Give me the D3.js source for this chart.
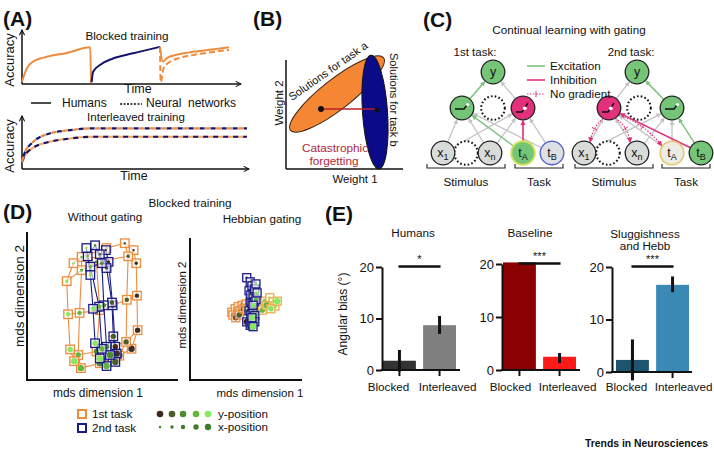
<!DOCTYPE html>
<html><head><meta charset="utf-8">
<script src="https://cdn.jsdelivr.net/npm/d3@7/dist/d3.min.js"></script>
<style>
html,body{margin:0;padding:0;background:#fff;}
svg{display:block;}
</style></head>
<body>
<svg id="fig" width="714" height="460"></svg>
<script>
// ================= DATA =================
// Panel A – blocked training (time in block units, accuracy 0..1)
const blockA1Time = [0, 0.07, 0.165, 0.36, 0.65, 0.99, 1.0];
const blockA1Acc  = [0.03, 0.34, 0.50, 0.61, 0.70, 0.83, 0.0];
const blockBTime  = [1.01, 1.03, 1.13, 1.32, 1.61, 2.0];
const blockBAcc   = [0.02, 0.26, 0.42, 0.57, 0.69, 0.84];
const blockA2HumanTime = [2.0, 2.04, 2.1, 2.25, 2.5, 2.75, 3.0];
const blockA2HumanAcc  = [0.84, 0.50, 0.58, 0.66, 0.73, 0.78, 0.83];
const blockA2NetTime = [2.0, 2.01, 2.05, 2.1, 2.3, 2.55, 2.8, 3.0];
const blockA2NetAcc  = [0.84, 0.02, 0.33, 0.44, 0.59, 0.67, 0.73, 0.77];
// Panel A – interleaved training
const interTime     = [0, 0.04, 0.14, 0.41, 0.7, 0.99, 3.26];
const interNetAcc   = [0.14, 0.35, 0.56, 0.79, 0.86, 0.90, 0.90];
const interHumanAcc = [0.14, 0.28, 0.44, 0.60, 0.67, 0.71, 0.71];

// Panel D – MDS coordinates, indexed [colour c: dark..bright][size s: small..large]
const orangeLeftX = [[0.46,0.50,0.51,0.52,0.43],[0.33,0.38,0.36,0.35,0.25],[0.06,-0.09,-0.04,-0.09,-0.04],[-0.31,-0.31,-0.34,-0.36,-0.32],[-0.43,-0.53,-0.51,-0.48,-0.42]];
const orangeLeftY = [[0.81,0.62,0.15,-0.35,-0.62],[0.91,0.72,0.09,-0.52,-0.72],[0.84,0.64,-0.06,-0.66,-0.83],[0.71,0.52,-0.10,-0.71,-0.90],[0.62,0.36,-0.12,-0.63,-0.80]];
const navyLeftX = [[0.05,0.09,0.15,0.19,0.21],[-0.04,0.06,0.14,0.16,0.19],[-0.11,-0.01,0.02,0.06,0.11],[-0.22,-0.18,-0.05,-0.01,0.06],[-0.24,-0.18,-0.14,-0.11,-0.04]];
const navyLeftY = [[0.81,0.64,0.01,-0.59,-0.69],[0.75,0.55,0.05,-0.44,-0.81],[0.88,0.62,0.01,-0.59,-0.71],[0.72,0.57,-0.01,-0.62,-0.87],[0.84,0.45,-0.04,-0.54,-0.76]];
const orangeRightX = [[-0.36,-0.30,-0.34,-0.29,-0.25],[-0.25,-0.22,-0.18,-0.23,-0.15],[-0.11,-0.08,-0.04,-0.10,-0.01],[0.13,0.18,0.22,0.17,0.25],[0.30,0.36,0.39,0.32,0.43]];
const orangeRightY = [[-0.09,-0.04,-0.13,-0.17,-0.07],[-0.01,-0.07,0.01,-0.13,-0.04],[0.03,-0.03,0.00,-0.07,-0.04],[0.04,-0.01,0.07,-0.06,0.01],[0.12,0.06,0.00,-0.04,0.07]];
const navyRightX = [[-0.10,-0.06,-0.04,-0.06,-0.10],[-0.04,-0.03,-0.01,-0.03,-0.04],[-0.01,0.01,0.03,0.01,-0.01],[0.03,0.04,0.06,0.04,0.04],[0.06,0.08,0.01,-0.01,0.01]];
const navyRightY = [[0.41,0.22,0.07,-0.07,-0.23],[0.35,0.16,0.04,-0.13,-0.28],[0.29,0.17,0.06,-0.10,-0.26],[0.23,0.25,0.09,-0.14,-0.23],[0.32,0.19,0.01,-0.17,-0.30]];
const yPosColors = ["#3e2a1e","#4b5d28","#4e8c2f","#62b83d","#86ea5e"];
const xPosRadius = [1.2,1.7,2.2,2.7,3.2];

// Panel E – angular bias (deg)
const eGroups = ["Humans","Baseline","Sluggishness and Hebb"];
const eConditions = ["Blocked","Interleaved"];
const eMeans = [[1.8,8.7],[20.3,2.5],[2.3,16.6]];
const eErrLo = [[-0.3,7.0],[20.3,1.3],[-1.6,15.2]];
const eErrHi = [[3.9,10.5],[20.3,3.2],[6.2,18.2]];
const eColors = [["#333333","#7f7f7f"],["#8b0000","#ff1a1a"],["#1d5570","#3a8ab5"]];
const eSig = ["*","***","***"];
const eTicks = [0,10,20];

// ================= SETUP =================
const FONT = "'Liberation Sans', Arial, Helvetica, sans-serif";
const ORANGE = "#ef8b3c", NAVY = "#15156e";
const svg = d3.select("#fig").attr("font-family", FONT);
svg.append("rect").attr("width",714).attr("height",460).attr("fill","#fff");
const defs = svg.append("defs");
defs.append("marker").attr("id","chev").attr("viewBox","0 0 8 8").attr("refX",7).attr("refY",4)
  .attr("markerWidth",7).attr("markerHeight",7).attr("markerUnits","userSpaceOnUse").attr("orient","auto")
  .append("path").attr("d","M1,1 L7,4 L1,7").attr("fill","none").attr("stroke","#111").attr("stroke-width",1.2);
function tri(id,color,size){
  defs.append("marker").attr("id",id).attr("viewBox","0 0 6 6").attr("refX",5).attr("refY",3)
   .attr("markerWidth",size).attr("markerHeight",size).attr("markerUnits","userSpaceOnUse").attr("orient","auto")
   .append("path").attr("d","M0,0 L6,3 L0,6 Z").attr("fill",color);
}
const GREY="#c4c4c4", GREEN="#7cc47e", PINK="#e2307c";
tri("aGrey",GREY,5); tri("aGreen",GREEN,5); tri("aPink",PINK,5.5);

function T(sel, x, y, s, o={}) {
  const t = sel.append("text").attr("x",x).attr("y",y).text(s)
    .attr("font-size", o.size||11.7).attr("text-anchor", o.anchor||"start")
    .attr("fill", o.fill||"#111");
  if (o.weight) t.attr("font-weight", o.weight);
  if (o.rotate!=null) t.attr("transform",`rotate(${o.rotate},${x},${y})`);
  return t;
}
function L(sel,x1,y1,x2,y2,o={}) {
  const l = sel.append("line").attr("x1",x1).attr("y1",y1).attr("x2",x2).attr("y2",y2)
    .attr("stroke",o.stroke||"#111").attr("stroke-width",o.w||1.5);
  if (o.dash) l.attr("stroke-dasharray",o.dash);
  if (o.marker) l.attr("marker-end",`url(#${o.marker})`);
  return l;
}

// ================= PANEL A =================
const gA = svg.append("g");
T(gA,3,26,"(A)",{size:21,weight:"bold"});
const tScale = d3.scaleLinear().domain([0,3.3]).range([22,249.7]);
const accTop = d3.scaleLinear().domain([0,1]).range([83,40]);
const accBot = d3.scaleLinear().domain([0,1]).range([168,124]);
const mk = ys => d3.line().x(d=>tScale(d[0])).y(d=>ys(d[1])).curve(d3.curveMonotoneX);
L(gA,tScale(0),84,tScale(0),30,{marker:"chev"});
L(gA,tScale(0),84,241,84,{marker:"chev"});
L(gA,tScale(0),169,tScale(0),116,{marker:"chev"});
L(gA,tScale(0),169,249,169,{marker:"chev"});
T(gA,127,40,"Blocked training",{anchor:"middle"});
T(gA,14,60,"Accuracy",{anchor:"middle",rotate:-90,size:13});
T(gA,138,93,"Time",{anchor:"middle",size:12.5});
T(gA,14,146,"Accuracy",{anchor:"middle",rotate:-90,size:13});
T(gA,134,180,"Time",{anchor:"middle",size:12.5});
gA.append("path").attr("d",mk(accTop)(d3.zip(blockA1Time,blockA1Acc))).attr("fill","none").attr("stroke",ORANGE).attr("stroke-width",2);
gA.append("path").attr("d",mk(accTop)(d3.zip(blockBTime,blockBAcc))).attr("fill","none").attr("stroke",NAVY).attr("stroke-width",2);
gA.append("path").attr("d",mk(accTop)(d3.zip(blockA2NetTime,blockA2NetAcc))).attr("fill","none").attr("stroke",ORANGE).attr("stroke-width",2).attr("stroke-dasharray","6,3");
gA.append("path").attr("d",mk(accTop)(d3.zip(blockA2HumanTime,blockA2HumanAcc))).attr("fill","none").attr("stroke",ORANGE).attr("stroke-width",2);
L(gA,31,103,51,103,{w:1.5});
T(gA,62,107,"Humans",{size:12});
L(gA,120,104,142,104,{w:1.3,dash:"2,1.5"});
T(gA,146,107,"Neural\u00A0 networks",{size:12});
T(gA,136,120.5,"Interleaved training",{anchor:"middle",size:11.5});
const upD = mk(accBot)(d3.zip(interTime,interNetAcc));
const loD = mk(accBot)(d3.zip(interTime,interHumanAcc));
gA.append("path").attr("d",loD).attr("fill","none").attr("stroke","#f2a868").attr("stroke-width",2.2);
gA.append("path").attr("d",loD).attr("fill","none").attr("stroke",NAVY).attr("stroke-width",2.2).attr("stroke-dasharray","5,5");
gA.append("path").attr("d",upD).attr("fill","none").attr("stroke",ORANGE).attr("stroke-width",2.2).attr("stroke-dasharray","5,6");
gA.append("path").attr("d",upD).attr("fill","none").attr("stroke",NAVY).attr("stroke-width",2.2).attr("stroke-dasharray","5,6").attr("stroke-dashoffset",5.5);

// ================= PANEL B =================
const gB = svg.append("g");
T(gB,253,26,"(B)",{size:21,weight:"bold"});
L(gB,286,60,286,169,{w:1.5});
L(gB,286,169,403,169,{w:1.5});
gB.append("ellipse").attr("rx",59).attr("ry",15).attr("transform","translate(337,94) rotate(-38)")
  .attr("fill","#f58634").attr("stroke","#3a2410").attr("stroke-width",1);
gB.append("ellipse").attr("rx",12.5).attr("ry",57).attr("transform","translate(375,112) rotate(-4)")
  .attr("fill","#0b0b8a").attr("stroke","#111").attr("stroke-width",1);
L(gB,321,109,376,109,{stroke:"#b8202e",w:1.3});
gB.append("circle").attr("cx",321).attr("cy",109).attr("r",3).attr("fill","#111");
gB.append("circle").attr("cx",377).attr("cy",110).attr("r",2.6).attr("fill","#111");
T(gB,292,101,"Solutions for task a",{size:11,rotate:-35});
T(gB,390,53,"Solutions for task b",{size:11,rotate:90});
T(gB,283,103,"Weight 2",{size:11.5,anchor:"middle",rotate:-90});
T(gB,355,183,"Weight 1",{size:11.5,anchor:"middle"});
T(gB,335,152,"Catastrophic",{size:11.8,anchor:"middle",fill:"#b0283a"});
T(gB,334,164.5,"forgetting",{size:11.8,anchor:"middle",fill:"#b0283a"});

// ================= PANEL C =================
const gC = svg.append("g");
T(gC,423,27,"(C)",{size:21,weight:"bold"});
T(gC,569,34,"Continual learning with gating",{size:11.7,anchor:"middle"});
T(gC,475,56,"1st task:",{size:11.5,anchor:"middle"});
T(gC,631,56,"2nd task:",{size:11.5,anchor:"middle"});
const R = 11.8;
const net1 = {out:[493,72], hid:[[462,108],[493,108],[523,108]], inp:[[443,153],[466,153],[490,153],[523,153],[552,153]]};
const net2 = {out:[637,72], hid:[[609,108],[639,108],[672,108]], inp:[[584,153],[608,153],[637,153],[672,153],[701,153]]};
function edge(a,b,color,marker,w){
  const dx=b[0]-a[0], dy=b[1]-a[1], len=Math.hypot(dx,dy), ux=dx/len, uy=dy/len;
  L(gC,a[0]+ux*R,a[1]+uy*R,b[0]-ux*(R+1),b[1]-uy*(R+1),{stroke:color,w:w||1.3,marker});
}
function curved(a,b,bend){
  const dx=b[0]-a[0], dy=b[1]-a[1], len=Math.hypot(dx,dy), ux=dx/len, uy=dy/len;
  const s=[a[0]+ux*R,a[1]+uy*R], e=[b[0]-ux*(R+1),b[1]-uy*(R+1)];
  const m=[(s[0]+e[0])/2 - uy*bend,(s[1]+e[1])/2 + ux*bend];
  const p=d3.path(); p.moveTo(s[0],s[1]); p.quadraticCurveTo(m[0],m[1],e[0],e[1]);
  gC.append("path").attr("d",p.toString()).attr("fill","none").attr("stroke",PINK).attr("stroke-width",1.2)
    .attr("stroke-dasharray","1.5,1.5").attr("marker-end","url(#aPink)");
  const tx=(s[0]+2*m[0]+e[0])/4, ty=(s[1]+2*m[1]+e[1])/4;
  L(gC,tx-uy*3,ty+ux*3,tx+uy*3,ty-ux*3,{stroke:PINK,w:1});
}
[[0,0],[0,2],[2,0],[2,2],[4,0],[4,2]].forEach(([i,h])=>edge(net1.inp[i],net1.hid[h],GREY,"aGrey"));
edge(net1.hid[2],net1.out,GREY,"aGrey");
edge(net1.inp[3],net1.hid[0],GREEN,"aGreen",1.4);
edge(net1.hid[0],net1.out,GREEN,"aGreen",1.6);
edge(net1.inp[3],net1.hid[2],PINK,"aPink",1.6);
[[0,0],[0,2],[2,0],[2,2],[3,0],[3,2]].forEach(([i,h])=>edge(net2.inp[i],net2.hid[h],GREY,"aGrey"));
edge(net2.hid[0],net2.out,GREY,"aGrey");
edge(net2.inp[4],net2.hid[2],GREEN,"aGreen",1.4);
edge(net2.hid[2],net2.out,GREEN,"aGreen",1.6);
edge(net2.inp[4],net2.hid[0],PINK,"aPink",1.6);
curved(net2.hid[0],net2.inp[0],5);
curved(net2.hid[0],net2.inp[2],-6);
curved(net2.hid[0],net2.inp[3],-8);
function node(p,fill,stroke,o={}){
  const c=gC.append("circle").attr("cx",p[0]).attr("cy",p[1]).attr("r",R).attr("fill",fill)
    .attr("stroke",stroke).attr("stroke-width",o.w||1.3);
  if(o.dash) c.attr("stroke-dasharray",o.dash);
}
function lab(p,main,sub){
  const t=gC.append("text").attr("x",p[0]).attr("y",p[1]+4).attr("text-anchor","middle").attr("font-size",12.5).attr("fill","#111");
  t.append("tspan").text(main);
  if(sub) t.append("tspan").text(sub).attr("font-size",9).attr("dy",3);
}
function relu(p,kind){
  const g=gC.append("g").attr("transform",`translate(${p[0]},${p[1]})`);
  if(kind==="flat"){
    g.append("path").attr("d","M-7,1 L2,1 L5,-3").attr("fill","none").attr("stroke","#111").attr("stroke-width",1.4);
    g.append("circle").attr("cx",5.5).attr("cy",-3.5).attr("r",1.6).attr("fill","#fff");
  } else {
    g.append("path").attr("d","M-7,4 L-1,4 L5,-5").attr("fill","none").attr("stroke","#111").attr("stroke-width",1.4);
    g.append("circle").attr("cx",1.8).attr("cy",0.3).attr("r",1.9).attr("fill","#fff");
  }
}
const NG="#d8dcd8", NGREEN="#74c577";
function drawNet(n,first){
  node(n.out,NGREEN,"#222"); lab(n.out,"y");
  node(n.hid[1],"#fff","#111",{dash:"1.6,2.2",w:2});
  node(n.inp[1],"#fff","#111",{dash:"1.6,2.2",w:2});
  node(n.inp[0],NG,"#222"); lab(n.inp[0],"x","1");
  node(n.inp[2],NG,"#222"); lab(n.inp[2],"x","n");
  if(first){
    node(n.hid[0],NGREEN,"#222"); relu(n.hid[0],"flat");
    node(n.hid[2],PINK,"#222"); relu(n.hid[2],"pink");
    node(n.inp[3],NGREEN,"#d5e05a",{w:2}); lab(n.inp[3],"t","A");
    node(n.inp[4],"#dde0e4","#5a68c8",{w:1.4}); lab(n.inp[4],"t","B");
  } else {
    node(n.hid[0],PINK,"#222"); relu(n.hid[0],"pink");
    node(n.hid[2],NGREEN,"#222"); relu(n.hid[2],"flat");
    node(n.inp[3],"#ecebe4","#e6c873",{w:1.6}); lab(n.inp[3],"t","A");
    node(n.inp[4],NGREEN,"#222"); lab(n.inp[4],"t","B");
  }
}
drawNet(net1,true); drawNet(net2,false);
L(gC,527,66,545,66,{stroke:GREEN,w:1.6}); T(gC,550,70,"Excitation",{size:11.7});
L(gC,527,80,545,80,{stroke:PINK,w:1.6}); T(gC,550,84,"Inhibition",{size:11.7});
L(gC,527,94,545,94,{stroke:PINK,w:1.2,dash:"1.5,1.5"}); L(gC,536,91,536,97,{stroke:PINK,w:1});
T(gC,550,98,"No gradient",{size:11.7});
[[427,505,"Stimulus"],[515,563,"Task"],[575,653,"Stimulus"],[662,710,"Task"]].forEach(([a,b,s])=>{
  gC.append("path").attr("d",`M${a},164 V168 H${b} V164`).attr("fill","none").attr("stroke","#222").attr("stroke-width",1.1);
  T(gC,(a+b)/2,186,s,{size:11.7,anchor:"middle"});
});

// ================= PANEL D =================
const gD = svg.append("g");
T(gD,3,219,"(D)",{size:21,weight:"bold"});
T(gD,190,207,"Blocked training",{size:11.7,anchor:"middle"});
T(gD,105,221,"Without gating",{size:11.7,anchor:"middle"});
T(gD,262,223,"Hebbian gating",{size:11.7,anchor:"middle"});
L(gD,27,232,27,381,{w:2}); L(gD,26,380,178,380,{w:2});
L(gD,190,238,190,381,{w:2}); L(gD,189,380,302,380,{w:2});
T(gD,24,296,"mds dimension 2",{size:13.5,anchor:"middle",rotate:-90});
T(gD,186,305,"mds dimension 2",{size:11.5,anchor:"middle",rotate:-90});
T(gD,98,397,"mds dimension 1",{size:11.9,anchor:"middle"});
T(gD,260,397,"mds dimension 1",{size:11.5,anchor:"middle"});
const dXL = d3.scaleLinear().domain([-1,1]).range([35,170]);
const dXR = d3.scaleLinear().domain([-1,1]).range([195,310]);
const dY  = d3.scaleLinear().domain([-1,1]).range([375,237]);
function grid(X,Y,xs,colorOf,sq){
  const g=gD.append("g");
  const ln=d3.line().x(d=>xs(d[0])).y(d=>dY(d[1]));
  for(let c=0;c<5;c++){ g.append("path").attr("d",ln(d3.zip(X[c],Y[c]))).attr("fill","none").attr("stroke",colorOf(c)).attr("stroke-width",1.1); }
  for(let s=0;s<5;s++){ g.append("path").attr("d",ln(X.map((col,c)=>[col[s],Y[c][s]]))).attr("fill","none").attr("stroke",colorOf(2)).attr("stroke-width",1.1); }
  for(let c=0;c<5;c++) for(let s=0;s<5;s++){
    const px=xs(X[c][s]), py=dY(Y[c][s]);
    g.append("rect").attr("x",px-sq/2).attr("y",py-sq/2).attr("width",sq).attr("height",sq)
      .attr("fill","#fff").attr("fill-opacity",0.6).attr("stroke",colorOf(c)).attr("stroke-width",1.3);
    g.append("circle").attr("cx",px).attr("cy",py).attr("r",xPosRadius[s]).attr("fill",yPosColors[c]);
  }
}
grid(orangeLeftX,orangeLeftY,dXL,()=>ORANGE,8.5);
grid(navyLeftX,navyLeftY,dXL,()=>"#1a1a85",8.5);
grid(orangeRightX,orangeRightY,dXR,c=>c>=3?"#e9ae48":ORANGE,8);
grid(navyRightX,navyRightY,dXR,()=>"#1a1a85",8);
gD.append("rect").attr("x",78).attr("y",410).attr("width",8).attr("height",8).attr("fill","#fff").attr("stroke",ORANGE).attr("stroke-width",2);
gD.append("rect").attr("x",78).attr("y",424).attr("width",8).attr("height",8).attr("fill","#fff").attr("stroke","#1a1a85").attr("stroke-width",2);
T(gD,92,418,"1st task",{size:11.7}); T(gD,92,432,"2nd task",{size:11.7});
const legX = [160,172,183,196,208];
legX.forEach((x,i)=>{
  gD.append("circle").attr("cx",x).attr("cy",414).attr("r",3.3).attr("fill",yPosColors[i]);
  gD.append("circle").attr("cx",x).attr("cy",427).attr("r",xPosRadius[i]).attr("fill","#3f7d2a");
});
T(gD,218,418,"y-position",{size:11.7}); T(gD,218,431,"x-position",{size:11.7});

// ================= PANEL E =================
const gE = svg.append("g");
T(gE,325,221,"(E)",{size:21,weight:"bold"});
T(gE,347,314,"Angular bias (°)",{size:12,anchor:"middle",rotate:-90});
const eLayout = [
  {axisX:382, y0:370, y20:267, band:[383,456], xEnd:460, title:["Humans"], titleX:413, titleY:237, lab:[-11,8]},
  {axisX:502, y0:370, y20:264, band:[503,576], xEnd:580, title:["Baseline"], titleX:530, titleY:237, lab:[-9,8]},
  {axisX:612, y0:372, y20:267, band:[616,689], xEnd:692, title:["Sluggishness","and Hebb"], titleX:645, titleY:238, lab:[-6,11]}
];
eLayout.forEach((Lo,i)=>{
  const g = gE.append("g");
  const y = d3.scaleLinear().domain([0,20]).range([Lo.y0,Lo.y20]);
  const x = d3.scaleBand().domain(eConditions).range(Lo.band).paddingInner(0.18);
  Lo.title.forEach((s,k)=>T(g,Lo.titleX,Lo.titleY+k*12,s,{size:11.7,anchor:"middle"}));
  g.selectAll("rect.bar").data(eConditions).join("rect").attr("class","bar")
    .attr("x",c=>x(c)).attr("width",x.bandwidth())
    .attr("y",(c,j)=>y(eMeans[i][j])).attr("height",(c,j)=>y(0)-y(eMeans[i][j]))
    .attr("fill",(c,j)=>eColors[i][j]);
  eConditions.forEach((c,j)=>{
    const cx = x(c)+x.bandwidth()/2;
    if (eErrHi[i][j] > eErrLo[i][j]) L(g,cx,y(eErrLo[i][j]),cx,y(eErrHi[i][j]),{w:3});
    T(g,cx+Lo.lab[j],391,c,{size:11.7,anchor:"middle"});
  });
  L(g,Lo.axisX-1,Lo.y0,Lo.xEnd,Lo.y0,{w:2});
  g.append("g").attr("transform",`translate(0,${Lo.y0})`)
    .call(d3.axisBottom(x).tickSize(6).tickSizeOuter(0).tickFormat(""))
    .call(a=>{a.select(".domain").remove(); a.selectAll(".tick line").attr("stroke","#111").attr("stroke-width",2);});
  g.append("g").attr("transform",`translate(${Lo.axisX},0)`)
    .call(d3.axisLeft(y).tickValues(eTicks).tickSize(6).tickSizeOuter(0).tickPadding(2))
    .call(a=>{a.select(".domain").attr("stroke","#111").attr("stroke-width",2);
      a.selectAll(".tick line").attr("stroke","#111").attr("stroke-width",2);
      a.selectAll("text").attr("font-size",13).attr("font-family",FONT).attr("fill","#111");});
  const c0 = x(eConditions[0])+x.bandwidth()/2, c1 = x(eConditions[1])+x.bandwidth()/2;
  L(g,c0-1,y(20.1),c1+1,y(20.1),{w:2.5});
  T(g,(c0+c1)/2,y(20.1)-3,eSig[i],{size:11,anchor:"middle"});
});

T(svg,585,447,"Trends in Neurosciences",{size:10.5,weight:"bold"}).attr("textLength",123).attr("lengthAdjust","spacingAndGlyphs");
</script>
</body></html>
